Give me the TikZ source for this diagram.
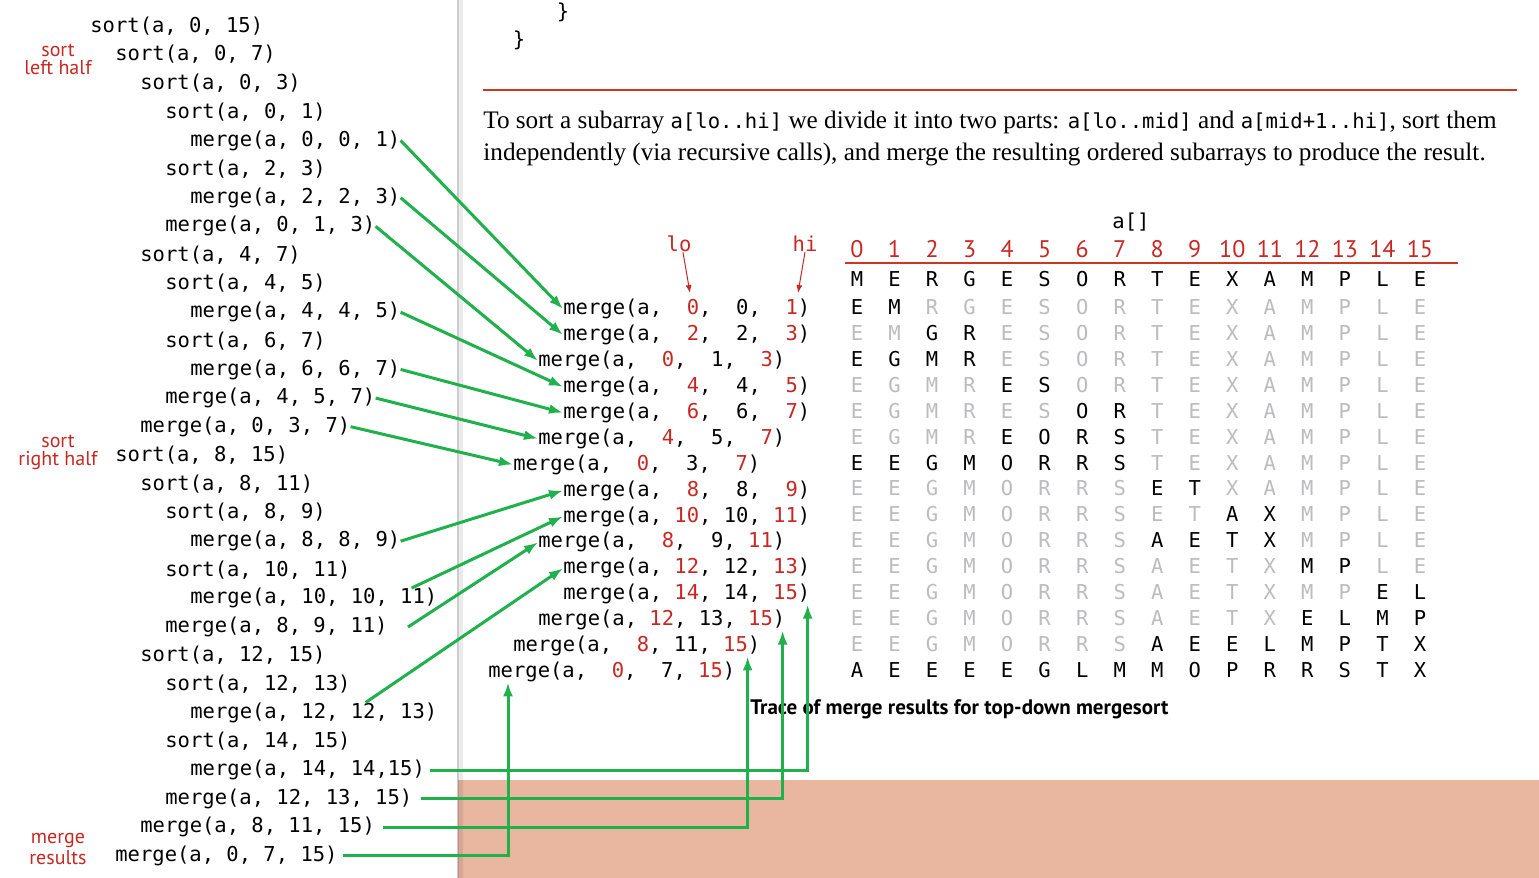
\documentclass[tikz,border=0pt]{standalone}
\usepackage{fontspec}
\setmainfont{Liberation Serif}
\setsansfont{PT Sans}
\setmonofont{DejaVu Sans Mono}
\usepackage{xstring}
\usetikzlibrary{calc}
\usetikzlibrary{arrows.meta}
\definecolor{tracered}{RGB}{200,40,35}
\definecolor{rulered}{RGB}{205,55,30}
\definecolor{resultgreen}{RGB}{32,176,76}
\definecolor{tracegray}{RGB}{188,188,192}
\definecolor{salmon}{RGB}{233,183,160}
\newcommand*\codesize{\ttfamily\fontsize{10.25}{12}\selectfont}
\newcommand*\code[1]{{\ttfamily\fontsize{10.3}{12}\selectfont#1}}
\newcommand*\padnum[1]{\ifnum#1<10 \phantom{0}\fi#1}
\begin{document}
\begin{tikzpicture}
    [%
        x=0.5pt,y=-0.5pt,%
        call/.style={%
            anchor=west,%
            inner sep=0pt,%
            font=\codesize%
        },%
        entry/.style={%
            inner sep=0pt,%
            font=\codesize%
        },%
        index/.style={%
            text=tracered,%
            inner sep=0pt,%
            font=\sffamily\fontsize{12}{12}\selectfont%
        },%
        side label/.style={%
            align=center,%
            text=tracered,%
            inner sep=0pt,%
            font=\sffamily\fontsize{10}{9}\selectfont%
        },%
        result/.style={%
            draw=resultgreen,%
            line width=1.5pt,%
            -{Latex[length=7pt,width=5pt]}%
        },%
        bound/.style={%
            draw=tracered,%
            line width=0.5pt,%
            -{Latex[length=4pt,width=3pt]}%
        }%
    ]%
    \useasboundingbox (0,0) rectangle (1539,878);
    \fill[white] (0,0) rectangle (1539,878);
    \fill[salmon] (458,780) rectangle (1539,878);
    \fill[black,opacity=0.2] (457,0) rectangle (459,878);
    \fill[black,opacity=0.08] (459,0) rectangle (463,878);
%
    % recursive calls
    \foreach \d/\t [count=\i] in {%
        0/{sort(a, 0, 15)},%
        1/{sort(a, 0, 7)},%
        2/{sort(a, 0, 3)},%
        3/{sort(a, 0, 1)},%
        4/{merge(a, 0, 0, 1)},%
        3/{sort(a, 2, 3)},%
        4/{merge(a, 2, 2, 3)},%
        3/{merge(a, 0, 1, 3)},%
        2/{sort(a, 4, 7)},%
        3/{sort(a, 4, 5)},%
        4/{merge(a, 4, 4, 5)},%
        3/{sort(a, 6, 7)},%
        4/{merge(a, 6, 6, 7)},%
        3/{merge(a, 4, 5, 7)},%
        2/{merge(a, 0, 3, 7)},%
        1/{sort(a, 8, 15)},%
        2/{sort(a, 8, 11)},%
        3/{sort(a, 8, 9)},%
        4/{merge(a, 8, 8, 9)},%
        3/{sort(a, 10, 11)},%
        4/{merge(a, 10, 10, 11)},%
        3/{merge(a, 8, 9, 11)},%
        2/{sort(a, 12, 15)},%
        3/{sort(a, 12, 13)},%
        4/{merge(a, 12, 12, 13)},%
        3/{sort(a, 14, 15)},%
        4/{merge(a, 14, 14,15)},%
        3/{merge(a, 12, 13, 15)},%
        2/{merge(a, 8, 11, 15)},%
        1/{merge(a, 0, 7, 15)}%
    }
        \node[call] (l\i) at ({90+25*\d}, {26+28.62*(\i-1)}) {\t};
    \node[side label] (left-half) at (58,59) {sort\\left half};
    \node[side label] (right-half) at (58,452) {sort\\right half};
    \node[side label] (merge-results) at (58,849) {merge\\results};
%
    \node[inner sep=0pt,font=\codesize] (brace-in) at (563,12) {\}};
    \node[inner sep=0pt,font=\codesize] (brace-out) at (519,40) {\}};
    \draw[rulered,line width=0.75pt] (483,90) -- (1517,90);
    \node[anchor=west,inner sep=0pt,font=\fontsize{12.6}{16}\selectfont] (text-1) at (483,122)
        {To sort a subarray \code{a[lo..hi]} we divide it into two parts: \code{a[lo..mid]} and \code{a[mid+1..hi]}, sort them};
    \node[anchor=west,inner sep=0pt,font=\fontsize{12.6}{16}\selectfont] (text-2) at (483,154)
        {independently (via recursive calls), and merge the resulting ordered subarrays to produce the result.};
%
    % merge results
    \foreach \d/\lo/\md/\hi [count=\i] in {%
        3/0/0/1, 3/2/2/3, 2/0/1/3, 3/4/4/5, 3/6/6/7, 2/4/5/7, 1/0/3/7,%
        3/8/8/9, 3/10/10/11, 2/8/9/11, 3/12/12/13, 3/14/14/15,%
        2/12/13/15, 1/8/11/15, 0/0/7/15%
    }
        \node[call] (r\i) at ({488+25*\d}, {309+25.93*(\i-1)})
            {merge(a, \textcolor{tracered}{\padnum{\lo}}, \padnum{\md}, \textcolor{tracered}{\padnum{\hi}})};
    \node[inner sep=0pt,text=tracered,font=\codesize] (lo) at (679,244) {lo};
    \node[inner sep=0pt,text=tracered,font=\codesize] (hi) at (805,244) {hi};
    \coordinate (lo-tip) at (690,293);
    \coordinate (hi-tip) at (798,293);
    \draw[bound] ([xshift=2pt]lo.south) -- (lo-tip);
    \draw[bound] (hi.south) -- (hi-tip);
%
    % trace of a[]
    \node[inner sep=0pt,font=\codesize] (array) at (1131,222) {a[]};
    \foreach \c in {0,...,15}
        \node[index] (i\c) at ({857+37.53*\c}, 249) {\c};
    \draw[rulered,line width=1pt] (845,263) -- (1458,263);
    \foreach \c [count=\n] in {0,...,15}
        \node[entry] (t0-\c) at ({857+37.53*\c}, 279) {\StrChar{MERGESORTEXAMPLE}{\n}};
    \foreach \w/\lo/\hi [count=\r] in {%
        EMRGESORTEXAMPLE/0/1,%
        EMGRESORTEXAMPLE/2/3,%
        EGMRESORTEXAMPLE/0/3,%
        EGMRESORTEXAMPLE/4/5,%
        EGMRESORTEXAMPLE/6/7,%
        EGMREORSTEXAMPLE/4/7,%
        EEGMORRSTEXAMPLE/0/7,%
        EEGMORRSETXAMPLE/8/9,%
        EEGMORRSETAXMPLE/10/11,%
        EEGMORRSAETXMPLE/8/11,%
        EEGMORRSAETXMPLE/12/13,%
        EEGMORRSAETXMPEL/14/15,%
        EEGMORRSAETXELMP/12/15,%
        EEGMORRSAEELMPTX/8/15,%
        AEEEEGLMMOPRRSTX/0/15%
    }
        \foreach \c [count=\n] in {0,...,15} {
            \ifnum\c<\lo \def\ink{tracegray}\else\ifnum\c>\hi \def\ink{tracegray}\else\def\ink{black}\fi\fi
            \node[entry,text=\ink] (t\r-\c) at ({857+37.53*\c}, {307+25.93*(\r-1)}) {\StrChar{\w}{\n}};
        }
    \node[anchor=west,inner sep=0pt,font=\sffamily\bfseries\fontsize{10.5}{12}\selectfont] (caption) at (750,709)
        {Trace of merge results for top-down mergesort};
%
    \foreach \a/\b in {5/1,7/2,8/3,11/4,13/5,14/6,15/7,19/8}
        \draw[result] (l\a.east) -- (r\b.west);
    \draw[result] ([xshift=-13pt]l21.north east) -- (r9.west);
    \draw[result] ([xshift=10pt]l22.east) -- (r10.west);
    \draw[result] ([xshift=-36pt]l25.north east) -- (r11.west);
    \draw[result] ([xshift=2.5pt]l27.east) -| ([xshift=-1.5pt]r12.south east);
    \draw[result] ([xshift=4pt]l28.east) -| ([xshift=-1.5pt]r13.south east);
    \draw[result] ([xshift=4pt]l29.east) -| ([xshift=-6.5pt]r14.south east);
    \draw[result] ([xshift=2.5pt]l30.east) -| ([xshift=10pt]r15.south west);
\end{tikzpicture}
\end{document}
